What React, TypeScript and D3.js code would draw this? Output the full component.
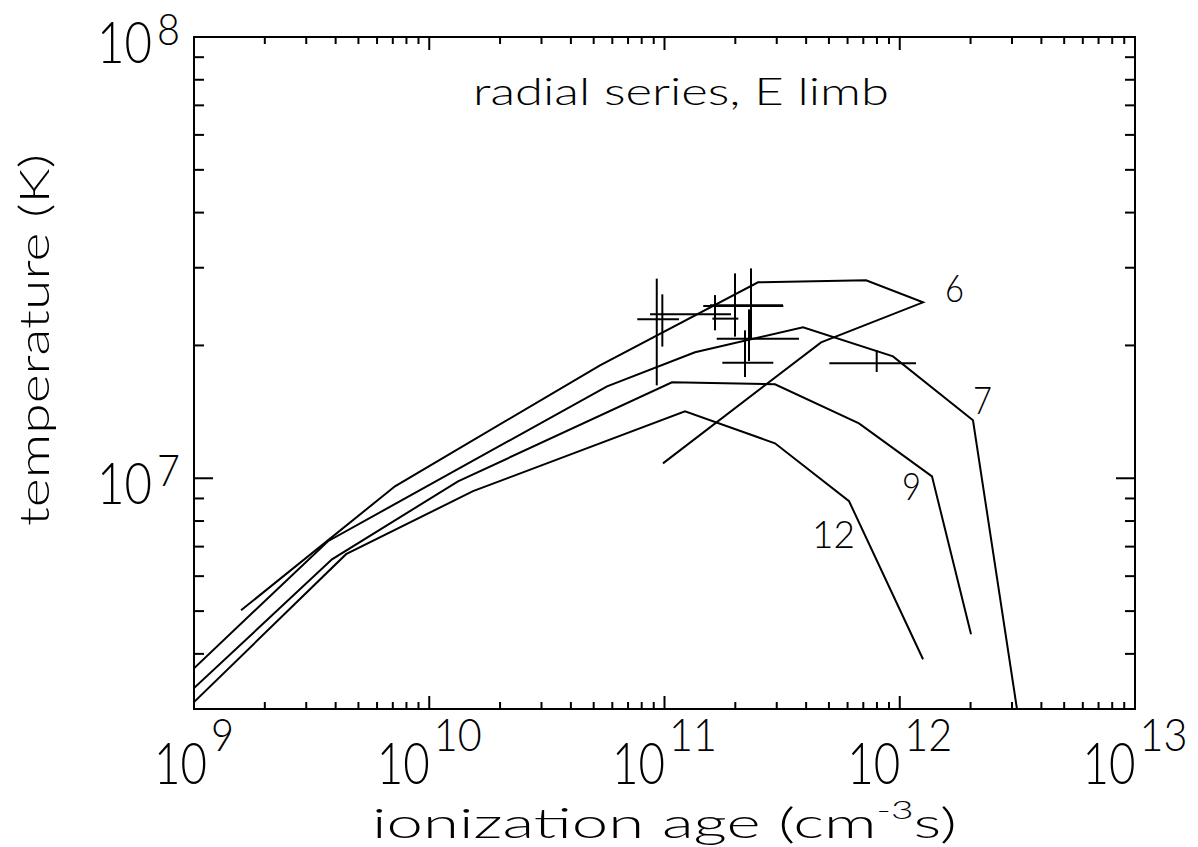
import React, { useEffect, useRef } from "react";
import * as d3 from "d3";

const W = 1198;
const H = 847;
const FONT = "Lato, 'DejaVu Sans', sans-serif";

// model tracks: [ionization age (cm^-3 s), temperature (K)]
const curve6 = [
  [1.585e9, 5.02e6], [7.15e9, 9.59e6], [5.32e10, 1.803e7], [2.497e11, 2.78e7],
  [7.19e11, 2.81e7], [1.256e12, 2.504e7], [4.63e11, 2.032e7], [9.85e10, 1.081e7],
];
const curve7 = [
  [1e9, 3.71e6], [3.71e9, 7.2e6], [5.7e10, 1.616e7], [1.348e11, 1.93e7],
  [3.88e11, 2.198e7], [9.36e11, 1.889e7], [2.048e12, 1.353e7], [3.15e12, 3.0e6],
];
const curve9 = [
  [1e9, 3.345e6], [3.86e9, 6.55e6], [1.325e10, 9.84e6], [1.076e11, 1.65e7],
  [2.949e11, 1.633e7], [6.71e11, 1.332e7], [1.371e12, 1.01e7], [2.009e12, 4.43e6],
];
const curve12 = [
  [1e9, 3.11e6], [4.43e9, 6.73e6], [1.535e10, 9.35e6], [1.222e11, 1.418e7],
  [2.949e11, 1.2e7], [6.09e11, 8.87e6], [1.256e12, 3.89e6],
];
const curves = [curve6, curve7, curve9, curve12];

// label text and the (age, temperature) where it sits
const curveLabels = [
  { text: "6", x: 1.557e12, t: 2.504e7 },
  { text: "7", x: 2.048e12, t: 1.396e7 },
  { text: "9", x: 1.022e12, t: 8.92e6 },
  { text: "12", x: 4.24e11, t: 6.94e6 },
];

// measured points with error ranges
const measurements = [
  { x: 9.27e10, xlo: 7.66e10, xhi: 1.152e11, t: 2.292e7, tlo: 1.624e7, thi: 2.834e7 },
  { x: 9.79e10, xlo: 8.68e10, xhi: 1.917e11, t: 2.352e7, tlo: 1.988e7, thi: 2.611e7 },
  { x: 1.639e11, xlo: 1.597e11, xhi: 2.059e11, t: 2.3e7, tlo: 2.164e7, thi: 2.601e7 },
  { x: 1.994e11, xlo: 1.461e11, xhi: 3.199e11, t: 2.456e7, tlo: 2.094e7, thi: 2.913e7 },
  { x: 2.332e11, xlo: 1.561e11, xhi: 3.19e11, t: 2.465e7, tlo: 2.065e7, thi: 2.99e7 },
  { x: 2.287e11, xlo: 1.667e11, xhi: 3.73e11, t: 2.072e7, tlo: 1.844e7, thi: 2.414e7 },
  { x: 2.199e11, xlo: 1.761e11, xhi: 2.9e11, t: 1.828e7, tlo: 1.696e7, thi: 2.164e7 },
  { x: 7.98e11, xlo: 5.02e11, xhi: 1.173e12, t: 1.822e7, tlo: 1.741e7, thi: 1.953e7 },
];

const xExponents = [9, 10, 11, 12, 13];
const yExponents = [7, 8];
const title = "radial series, E limb";
const yTitle = "temperature (K)";

export default function App() {
  const ref = useRef<SVGSVGElement>(null);

  useEffect(() => {
    const svg = d3.select(ref.current);
    svg.selectAll("*").remove();

    const left = 194, right = 1135, top = 37, bottom = 709;
    const x = d3.scaleLog().domain([1e9, 1e13]).range([left, right]);
    const y = d3.scaleLog().domain([3e6, 1e8]).range([bottom, top]);

    // squeeze text horizontally to a target width
    const fitText = (str: string, px: number, py: number, size: number, width: number, anchor: string) => {
      const g = svg.append("g");
      const t = g.append("text")
        .attr("font-family", FONT)
        .attr("font-weight", 300)
        .attr("font-size", size)
        .attr("fill", "#000")
        .text(str);
      const w = (t.node() as SVGTextElement).getComputedTextLength();
      const sx = width / w;
      const x0 = anchor === "start" ? px : anchor === "middle" ? px - width / 2 : px - width;
      g.attr("transform", `translate(${x0},${py}) scale(${sx},1)`);
      return g;
    };

    svg.append("defs").append("clipPath").attr("id", "plotclip")
      .append("rect").attr("x", left).attr("y", top)
      .attr("width", right - left).attr("height", bottom - top);

    // ticks
    const tickG = svg.append("g").attr("stroke", "#000").attr("stroke-width", 2);
    const xMinor: number[] = [];
    for (let e = 9; e < 13; e++) for (let k = 2; k <= 9; k++) xMinor.push(k * 10 ** e);
    const yMinor: number[] = [];
    for (let e = 6; e < 8; e++) for (let k = 2; k <= 9; k++) {
      const v = k * 10 ** e;
      if (v > 3e6 && v < 1e8) yMinor.push(v);
    }
    const xTicks = [
      ...xExponents.map((e) => ({ v: 10 ** e, len: 13 })),
      ...xMinor.map((v) => ({ v, len: 7 })),
    ];
    const yTicks = [
      ...yExponents.map((e) => ({ v: 10 ** e, len: 19 })),
      ...yMinor.map((v) => ({ v, len: 10 })),
    ];
    xTicks.forEach((d) => {
      tickG.append("line").attr("x1", x(d.v)).attr("x2", x(d.v)).attr("y1", bottom).attr("y2", bottom - d.len);
      tickG.append("line").attr("x1", x(d.v)).attr("x2", x(d.v)).attr("y1", top).attr("y2", top + d.len);
    });
    yTicks.forEach((d) => {
      tickG.append("line").attr("x1", left).attr("x2", left + d.len).attr("y1", y(d.v)).attr("y2", y(d.v));
      tickG.append("line").attr("x1", right).attr("x2", right - d.len).attr("y1", y(d.v)).attr("y2", y(d.v));
    });

    // frame
    svg.append("rect")
      .attr("x", left).attr("y", top)
      .attr("width", right - left).attr("height", bottom - top)
      .attr("fill", "none").attr("stroke", "#000").attr("stroke-width", 2);

    // tick labels
    const baseW = 53, gap = 4, supDigitW = 23;
    xExponents.forEach((e) => {
      const s = String(e);
      const supW = s.length === 1 ? supDigitW : 48;
      const total = baseW + gap + supW;
      const x0 = x(10 ** e) - total / 2;
      fitText("10", x0, bottom + 75, 58, baseW, "start");
      fitText(s, x0 + baseW + gap, bottom + 42, 45, supW, "start");
    });
    yExponents.forEach((e) => {
      const s = String(e);
      const yy = y(10 ** e);
      fitText(s, left - 14, yy + 8, 43, supDigitW, "end");
      fitText("10", left - 14 - supDigitW - 5, yy + 26, 58, 55, "end");
    });

    // x title with superscript
    const xt = svg.append("g");
    const xtText = xt.append("text")
      .attr("font-family", FONT).attr("font-weight", 300)
      .attr("font-size", 42).attr("fill", "#000");
    xtText.append("tspan").text("ionization age (cm");
    xtText.append("tspan").attr("font-size", 25).attr("dy", -19).text("-3");
    xtText.append("tspan").attr("dy", 19).text("s)");
    const xtw = (xtText.node() as SVGTextElement).getBBox().width;
    const xtTarget = 585;
    xt.attr("transform", `translate(${(left + right) / 2 - xtTarget / 2},${838}) scale(${xtTarget / xtw},1)`);

    // y title
    const yt = svg.append("g");
    const ytText = yt.append("text")
      .attr("font-family", FONT).attr("font-weight", 300)
      .attr("font-size", 42).attr("fill", "#000").text(yTitle);
    const ytw = (ytText.node() as SVGTextElement).getComputedTextLength();
    const ytTarget = 372;
    const ytCenter = 340;
    yt.attr("transform", `translate(49,${ytCenter + ytTarget / 2}) rotate(-90) scale(${ytTarget / ytw},1)`);

    // plot title
    fitText(title, 473, 105, 38, 416, "start");

    // model tracks
    const line = d3.line<number[]>().x((d) => x(d[0])).y((d) => y(d[1]));
    const plot = svg.append("g").attr("clip-path", "url(#plotclip)");
    curves.forEach((c) => {
      plot.append("path").attr("d", line(c)).attr("fill", "none")
        .attr("stroke", "#000").attr("stroke-width", 2).attr("stroke-linejoin", "miter");
    });

    // error crosses
    const eb = plot.append("g").attr("stroke", "#000").attr("stroke-width", 2);
    measurements.forEach((m) => {
      eb.append("line").attr("x1", x(m.xlo)).attr("x2", x(m.xhi)).attr("y1", y(m.t)).attr("y2", y(m.t));
      eb.append("line").attr("x1", x(m.x)).attr("x2", x(m.x)).attr("y1", y(m.tlo)).attr("y2", y(m.thi));
    });

    // curve labels
    curveLabels.forEach((l) => {
      fitText(l.text, x(l.x), y(l.t), 37, l.text.length === 1 ? 19 : 43, "start");
    });
  }, []);

  return (
    <svg
      ref={ref}
      width={W}
      height={H}
      style={{ position: "absolute", left: 0, top: 0, background: "#fff", display: "block" }}
    />
  );
}
